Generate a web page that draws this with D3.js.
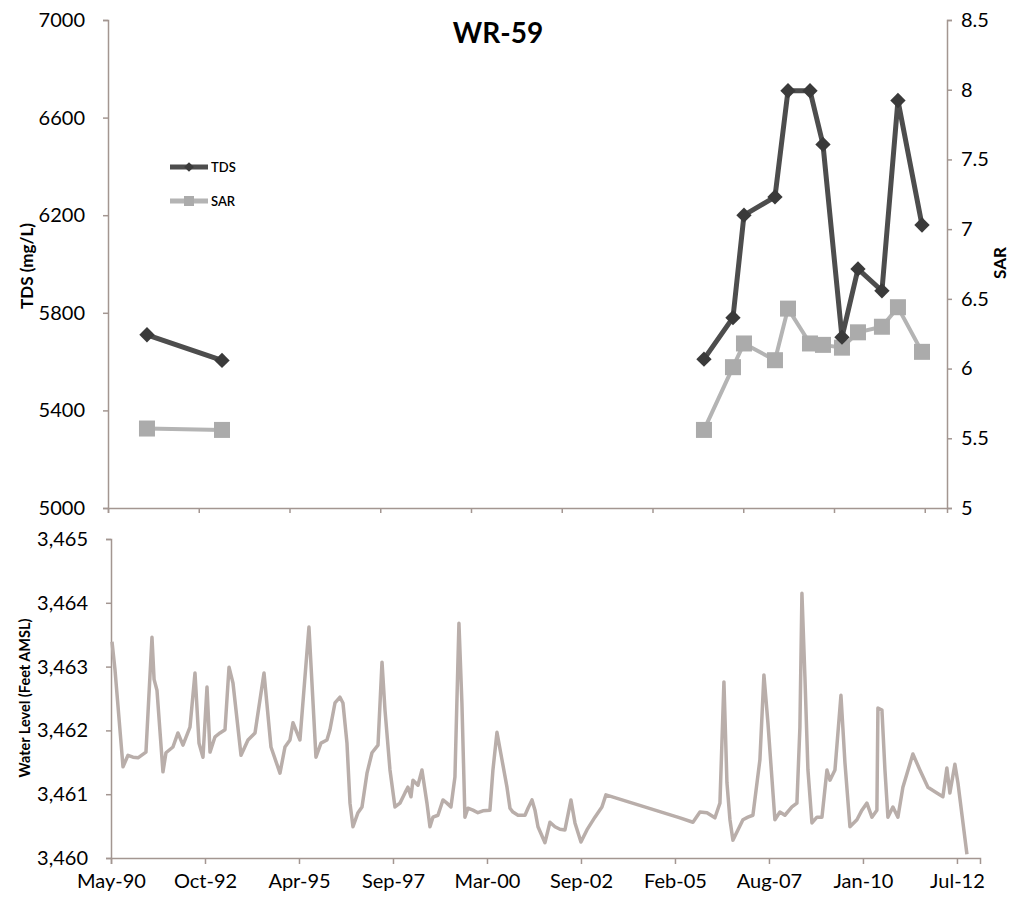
<!DOCTYPE html>
<html>
<head>
<meta charset="utf-8">
<script src="https://cdn.jsdelivr.net/npm/d3@7"></script>
<style>
  body { margin: 0; background: #fff; }
  svg { display: block; font-family: Lato, "Open Sans", sans-serif; }
</style>
</head>
<body>
<div id="chart"></div>
<script>
// ---- data (dates as decimal years) ----
const title = "WR-59";

// TDS / SAR samples (null = gap in record)
const sampleYears = [1991.409, 1993.445, 2000.0, 2006.532, 2007.320, 2007.619, 2008.460, 2008.813,
  2009.410, 2009.763, 2010.279, 2010.714, 2011.365, 2011.800, 2012.452];
const tdsValues = [5710, 5605, null, 5610, 5780, 6200, 6275, 6710, 6710, 6490, 5700, 5980, 5890, 6670, 6160];
const sarValues = [5.57, 5.56, null, 5.56, 6.01, 6.18, 6.06, 6.43, 6.18, 6.17, 6.15, 6.26, 6.30, 6.44, 6.12];

// water level record
const wlYears = [
  1990.376, 1990.455, 1990.665, 1990.796, 1990.927, 1991.058, 1991.267, 1991.425, 1991.480, 1991.556,
  1991.713, 1991.792, 1991.975, 1992.106, 1992.237, 1992.421, 1992.552, 1992.657, 1992.761, 1992.866,
  1992.945, 1993.076, 1993.207, 1993.338, 1993.443, 1993.548, 1993.758, 1993.941, 1994.125, 1994.361,
  1994.544, 1994.780, 1994.911, 1995.042, 1995.121, 1995.304, 1995.540, 1995.724, 1995.855, 1996.012,
  1996.090, 1996.222, 1996.353, 1996.431, 1996.536, 1996.615, 1996.693, 1996.824, 1996.929, 1997.060,
  1997.191, 1997.349, 1997.454, 1997.532, 1997.663, 1997.794, 1997.925, 1998.056, 1998.135, 1998.214,
  1998.266, 1998.397, 1998.502, 1998.633, 1998.712, 1998.790, 1998.921, 1999.053, 1999.157, 1999.262,
  1999.367, 1999.472, 1999.550, 1999.629, 1999.708, 1999.839, 1999.970, 2000.101, 2000.284, 2000.363,
  2000.468, 2000.599, 2000.730, 2000.809, 2000.887, 2001.018, 2001.202, 2001.281, 2001.386, 2001.464,
  2001.543, 2001.726, 2001.857, 2001.988, 2002.119, 2002.250, 2002.408, 2002.513, 2002.670, 2002.827,
  2003.037, 2003.220, 2003.325, 2005.265, 2005.605, 2005.789, 2005.973, 2006.182, 2006.313, 2006.418,
  2006.497, 2006.576, 2006.654, 2006.785, 2006.916, 2007.047, 2007.178, 2007.362, 2007.467, 2007.572,
  2007.755, 2007.886, 2008.017, 2008.201, 2008.332, 2008.410, 2008.463, 2008.541, 2008.620, 2008.725,
  2008.856, 2008.987, 2009.118, 2009.197, 2009.328, 2009.485, 2009.590, 2009.721, 2009.904, 2010.035,
  2010.166, 2010.297, 2010.428, 2010.455, 2010.560, 2010.639, 2010.717, 2010.848, 2010.979, 2011.110,
  2011.372, 2011.556, 2011.766, 2012.001, 2012.159, 2012.263, 2012.342, 2012.473, 2012.552, 2012.788
];
const wlValues = [
  3463.39, 3462.95, 3461.43, 3461.61, 3461.58, 3461.57, 3461.66, 3463.46, 3462.80, 3462.63,
  3461.35, 3461.65, 3461.74, 3461.96, 3461.77, 3462.05, 3462.90, 3461.80, 3461.58, 3462.68,
  3461.66, 3461.90, 3461.96, 3462.01, 3462.99, 3462.74, 3461.61, 3461.85, 3461.96, 3462.90,
  3461.74, 3461.33, 3461.74, 3461.85, 3462.12, 3461.85, 3463.62, 3461.58, 3461.80, 3461.85,
  3462.01, 3462.43, 3462.52, 3462.43, 3461.80, 3460.86, 3460.49, 3460.71, 3460.80, 3461.33,
  3461.65, 3461.77, 3463.07, 3462.32, 3461.38, 3460.80, 3460.86, 3461.02, 3461.11, 3460.96,
  3461.22, 3461.14, 3461.38, 3460.86, 3460.49, 3460.64, 3460.67, 3460.91, 3460.86, 3460.80,
  3461.27, 3463.68, 3462.43, 3460.64, 3460.78, 3460.75, 3460.71, 3460.74, 3460.75, 3461.38,
  3461.97, 3461.54, 3461.11, 3460.78, 3460.72, 3460.67, 3460.67, 3460.78, 3460.91, 3460.75,
  3460.49, 3460.24, 3460.56, 3460.49, 3460.45, 3460.44, 3460.91, 3460.55, 3460.25, 3460.44,
  3460.64, 3460.80, 3460.99, 3460.63, 3460.56, 3460.72, 3460.71, 3460.63, 3460.86, 3462.76,
  3461.18, 3460.60, 3460.28, 3460.44, 3460.60, 3460.64, 3460.67, 3461.54, 3462.87, 3462.12,
  3460.60, 3460.72, 3460.67, 3460.80, 3460.86, 3462.05, 3464.15, 3462.84, 3461.38, 3460.55,
  3460.64, 3460.64, 3461.38, 3461.22, 3461.38, 3462.55, 3461.49, 3460.49, 3460.60, 3460.75,
  3460.86, 3460.64, 3460.75, 3462.35, 3462.32, 3461.38, 3460.64, 3460.80, 3460.64, 3461.11,
  3461.63, 3461.38, 3461.11, 3461.02, 3460.96, 3461.41, 3461.02, 3461.47, 3461.18, 3460.06
];

// axes
const xStartYear = 1990.35;
const xEndYear = 2013.13;
const xTickStepDays = 900;
const xTickLabels = ["May-90", "Oct-92", "Apr-95", "Sep-97", "Mar-00", "Sep-02", "Feb-05", "Aug-07", "Jan-10", "Jul-12"];
const tdsTicks = [5000, 5400, 5800, 6200, 6600, 7000];
const sarTicks = [5, 5.5, 6, 6.5, 7, 7.5, 8, 8.5];
const wlTicks = [3460, 3461, 3462, 3463, 3464, 3465];

// ---- helpers ----
function yearToDate(y) {
  const yr = Math.floor(y);
  const a = new Date(yr, 0, 1), b = new Date(yr + 1, 0, 1);
  return new Date(+a + (y - yr) * (b - a));
}
const d0 = yearToDate(xStartYear);
const tickDates = xTickLabels.map((l, i) => d3.timeDay.offset(d0, i * xTickStepDays));

const axisColor = "#a39691";

const svg = d3.select("#chart").append("svg")
  .attr("width", 1013)
  .attr("height", 909);

// ===== top chart =====
const topBox = { left: 108, right: 947, top: 20, bottom: 508 };

const xTop = d3.scaleTime()
  .domain([d0, yearToDate(xEndYear)])
  .range([topBox.left, topBox.right]);
const yTds = d3.scaleLinear().domain([5000, 7000]).range([topBox.bottom, topBox.top]);
const ySar = d3.scaleLinear().domain([5, 8.5]).range([topBox.bottom, topBox.top]);

const samples = sampleYears.map((y, i) => ({ date: yearToDate(y), tds: tdsValues[i], sar: sarValues[i] }));

// axes
const gTop = svg.append("g");
gTop.append("g")
  .attr("transform", `translate(${topBox.left},0)`)
  .call(d3.axisLeft(yTds).tickValues(tdsTicks).tickSize(5).tickPadding(18).tickFormat(d3.format("d")));
gTop.append("g")
  .attr("transform", `translate(${topBox.right},0)`)
  .call(d3.axisRight(ySar).tickValues(sarTicks).tickSize(5).tickPadding(9).tickFormat(d => d));
gTop.append("g")
  .attr("transform", `translate(0,${topBox.bottom})`)
  .call(d3.axisBottom(xTop).tickValues(tickDates).tickSize(5).tickFormat(""));
gTop.selectAll(".domain").attr("stroke", axisColor).attr("stroke-width", 1.5);
gTop.selectAll(".tick line").attr("stroke", axisColor).attr("stroke-width", 1.5);
gTop.selectAll(".tick text").attr("font-size", 20).attr("fill", "#000").attr("font-family", "Lato, sans-serif");

// SAR line + squares
const sarLine = d3.line()
  .defined(d => d.sar != null)
  .x(d => xTop(d.date))
  .y(d => ySar(d.sar));
svg.append("path")
  .datum(samples)
  .attr("d", sarLine)
  .attr("fill", "none")
  .attr("stroke", "#b4b4b4")
  .attr("stroke-width", 4);
svg.append("g")
  .selectAll("rect")
  .data(samples.filter(d => d.sar != null))
  .enter()
  .append("rect")
  .attr("x", d => xTop(d.date) - 8)
  .attr("y", d => ySar(d.sar) - 8)
  .attr("width", 16)
  .attr("height", 16)
  .attr("fill", "#ababab");

// TDS line + diamonds
const tdsLine = d3.line()
  .defined(d => d.tds != null)
  .x(d => xTop(d.date))
  .y(d => yTds(d.tds));
svg.append("path")
  .datum(samples)
  .attr("d", tdsLine)
  .attr("fill", "none")
  .attr("stroke", "#4d4d4d")
  .attr("stroke-width", 5);
const diamond = d3.symbol().type(d3.symbolDiamond2).size(150);
svg.append("g")
  .selectAll("path")
  .data(samples.filter(d => d.tds != null))
  .enter()
  .append("path")
  .attr("d", diamond)
  .attr("transform", d => `translate(${xTop(d.date)},${yTds(d.tds)})`)
  .attr("fill", "#3a3a3a");

// titles
svg.append("text")
  .attr("x", 498)
  .attr("y", 43)
  .attr("text-anchor", "middle")
  .attr("font-size", 28)
  .attr("font-weight", "bold")
  .text(title);

svg.append("text")
  .attr("transform", "translate(33,266) rotate(-90)")
  .attr("text-anchor", "middle")
  .attr("font-size", 17)
  .attr("font-weight", "bold")
  .text("TDS (mg/L)");

svg.append("text")
  .attr("transform", "translate(1006,263) rotate(-90)")
  .attr("text-anchor", "middle")
  .attr("font-size", 17)
  .attr("font-weight", "bold")
  .text("SAR");

// legend
const legend = svg.append("g");
legend.append("line")
  .attr("x1", 170).attr("x2", 208).attr("y1", 167).attr("y2", 167)
  .attr("stroke", "#4d4d4d").attr("stroke-width", 5);
legend.append("path")
  .attr("d", d3.symbol().type(d3.symbolDiamond2).size(60))
  .attr("transform", "translate(189,167)")
  .attr("fill", "#3a3a3a");
legend.append("text")
  .attr("x", 211).attr("y", 172)
  .attr("font-size", 13)
  .attr("font-weight", 600)
  .text("TDS");
legend.append("line")
  .attr("x1", 170).attr("x2", 208).attr("y1", 201).attr("y2", 201)
  .attr("stroke", "#b4b4b4").attr("stroke-width", 5);
legend.append("rect")
  .attr("x", 184).attr("y", 196).attr("width", 10).attr("height", 10)
  .attr("fill", "#ababab");
legend.append("text")
  .attr("x", 211).attr("y", 206)
  .attr("font-size", 13)
  .attr("font-weight", 600)
  .text("SAR");

// ===== bottom chart =====
const botBox = { left: 111, right: 980, top: 539, bottom: 858 };

const xBot = d3.scaleTime()
  .domain([d0, yearToDate(xEndYear)])
  .range([botBox.left, botBox.right]);
const yWl = d3.scaleLinear().domain([3460, 3465]).range([botBox.bottom, botBox.top]);

const wl = wlYears.map((y, i) => ({ date: yearToDate(y), v: wlValues[i] }));

const gBot = svg.append("g");
gBot.append("g")
  .attr("transform", `translate(${botBox.left},0)`)
  .call(d3.axisLeft(yWl).tickValues(wlTicks).tickSize(5).tickPadding(18).tickFormat(d3.format(",")));
gBot.append("g")
  .attr("transform", `translate(0,${botBox.bottom})`)
  .call(d3.axisBottom(xBot).tickValues(tickDates).tickSize(6).tickPadding(10).tickFormat((d, i) => xTickLabels[i]));
gBot.selectAll(".domain").attr("stroke", axisColor).attr("stroke-width", 1.5);
gBot.selectAll(".tick line").attr("stroke", axisColor).attr("stroke-width", 1.5);
gBot.selectAll(".tick text").attr("font-size", 20).attr("fill", "#000").attr("font-family", "Lato, sans-serif");

svg.append("path")
  .datum(wl)
  .attr("d", d3.line().x(d => xBot(d.date)).y(d => yWl(d.v)))
  .attr("fill", "none")
  .attr("stroke", "#b9aeaa")
  .attr("stroke-width", 3.5)
  .attr("stroke-linejoin", "round");

svg.append("text")
  .attr("transform", "translate(30,698) rotate(-90)")
  .attr("text-anchor", "middle")
  .attr("font-size", 14.5)
  .attr("font-weight", "bold")
  .text("Water Level (Feet AMSL)");
</script>
</body>
</html>
